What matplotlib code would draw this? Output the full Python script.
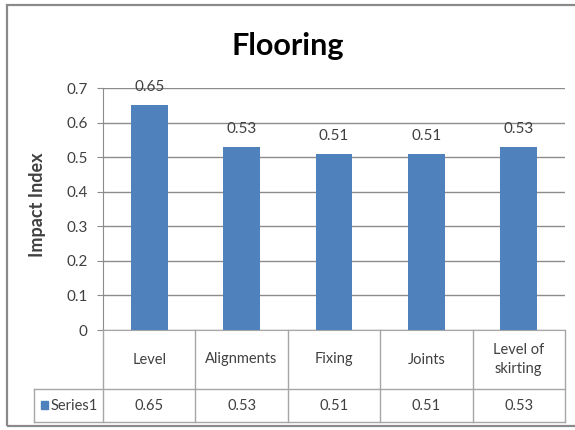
import matplotlib.pyplot as plt
from matplotlib.patches import Rectangle

categories = ['Level', 'Alignments', 'Fixing', 'Joints', 'Level of\nskirting']
values = [0.65, 0.53, 0.51, 0.51, 0.53]
value_labels = ['0.65', '0.53', '0.51', '0.51', '0.53']
yticks = [0, 0.1, 0.2, 0.3, 0.4, 0.5, 0.6, 0.7]
series_name = 'Series1'

BAR = '#4F81BD'
TXT = '#404040'
GRID = '#8C8C8C'
TABLE = '#A6A6A6'

plt.rcParams['font.family'] = ['Lato', 'DejaVu Sans']

fig = plt.figure(figsize=(5.75, 4.3), dpi=100)
fig.patch.set_facecolor('white')

# chart frame
fig.patches.append(Rectangle((7 / 575, 4 / 430), 1.1, 421 / 430,
                             transform=fig.transFigure, fill=False,
                             edgecolor='#8A8A8A', lw=1.6))

ax = fig.add_axes([103 / 575, 100 / 430, 462 / 575, 242 / 430])
x = range(len(categories))
ax.bar(x, values, width=0.4, color=BAR, zorder=3)
ax.set_xlim(-0.5, len(categories) - 0.5)
ax.set_ylim(0, 0.7)
ax.set_yticks(yticks)
ax.set_yticklabels([f'{t:g}' for t in yticks], fontsize=11, color=TXT)
ax.tick_params(axis='y', length=4, color=GRID, pad=7)
ax.set_xticks([])
ax.grid(axis='y', color=GRID, lw=1, zorder=0)
for s in ['top', 'right']:
    ax.spines[s].set_visible(False)
ax.spines['left'].set_color(GRID)
ax.spines['bottom'].set_color(TABLE)

for xi, v, lab in zip(x, values, value_labels):
    ax.annotate(lab, (xi, v), xytext=(0, 8), textcoords='offset points',
                ha='center', va='bottom', fontsize=11, color=TXT)

fig.text(0.5, 0.893, 'Flooring', fontsize=22, fontweight='bold',
         color='black', ha='center', va='center')
fig.text(38 / 575, 0.523, 'Impact Index', fontsize=13, fontweight='bold',
         color=TXT, rotation=90, ha='center', va='center')

# data table under the axis
tr = ax.get_xaxis_transform()
n = len(categories)
row1 = -59 / 242
row2 = -92 / 242
left = -0.5 - 69 / 462 * n

for b in [i - 0.5 for i in range(n + 1)]:
    ax.plot([b, b], [0, row2], transform=tr, color=TABLE, lw=1, clip_on=False)
ax.plot([left, left], [row1, row2], transform=tr, color=TABLE, lw=1, clip_on=False)
for yy in [row1, row2]:
    ax.plot([left, n - 0.5], [yy, yy], transform=tr, color=TABLE, lw=1, clip_on=False)

for xi, cat, lab in zip(x, categories, value_labels):
    ax.text(xi, row1 / 2, cat, transform=tr, ha='center', va='center',
            fontsize=10.5, color=TXT, linespacing=1.4)
    ax.text(xi, (row1 + row2) / 2, lab, transform=tr, ha='center', va='center',
            fontsize=10.5, color=TXT)

key_x = left + 0.08
ax.add_patch(Rectangle((key_x, (row1 + row2) / 2 - 0.015), 0.075, 0.035,
                       transform=tr, color=BAR, clip_on=False))
ax.text(key_x + 0.1, (row1 + row2) / 2, series_name, transform=tr,
        ha='left', va='center', fontsize=10.5, color=TXT)

fig.savefig('out.png', dpi=100)
